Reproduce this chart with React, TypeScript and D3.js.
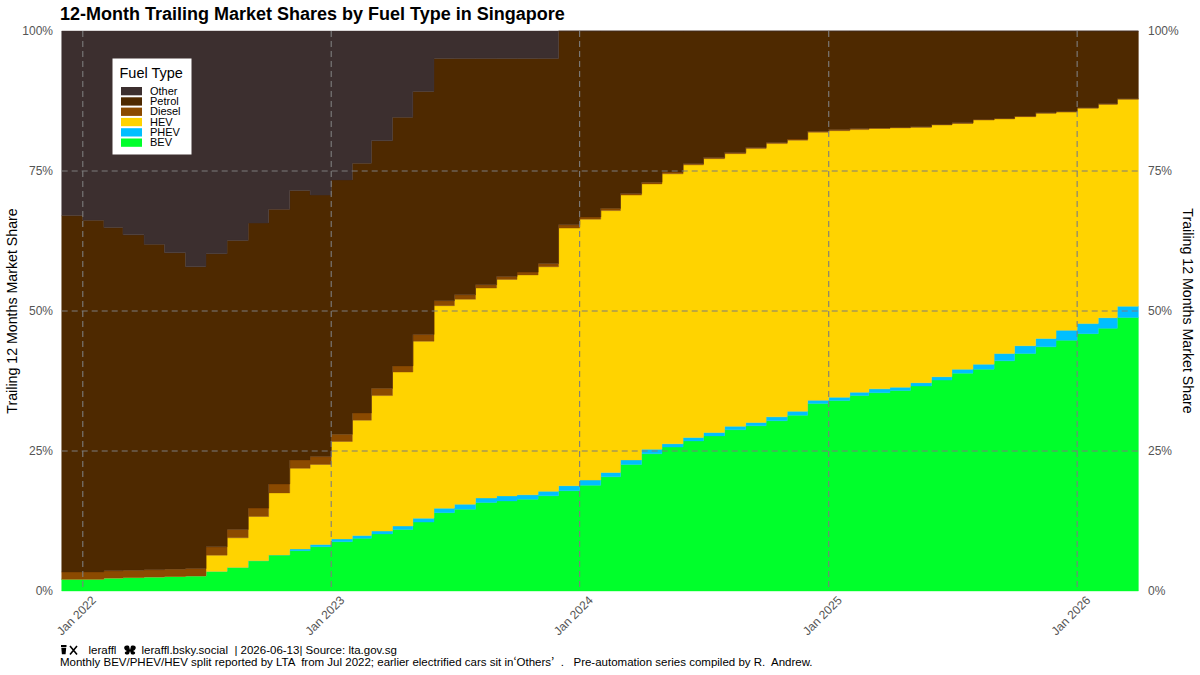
import * as d3 from "d3";

const W = 1200;
const H = 675;

// monthly 12-month trailing shares (%), Dec 2021 .. Mar 2026
const months = d3.utcMonth.range(new Date(Date.UTC(2021, 11, 1)), new Date(Date.UTC(2026, 3, 1)));
const endDate = new Date(Date.UTC(2026, 3, 1));

const fuelTypes = ["BEV", "PHEV", "HEV", "Diesel", "Petrol", "Other"]; // stack order, bottom up
const legendOrder = ["Other", "Petrol", "Diesel", "HEV", "PHEV", "BEV"];

const colors: Record<string, string> = {
  Other: "#3c2f2f",
  Petrol: "#4e2900",
  Diesel: "#8b4a00",
  HEV: "#ffd300",
  PHEV: "#00bfff",
  BEV: "#00ff2b",
};

const bev = [
  2.1, 2.1, 2.3, 2.4, 2.5, 2.6, 2.7, 3.5, 4.2, 5.4,
  6.4, 7.2, 7.9, 8.8, 9.4, 10.2, 11.0, 12.3, 14.0, 14.6,
  15.8, 16.1, 16.4, 17.0, 17.9, 18.9, 20.4, 22.6, 24.5, 25.7,
  26.8, 27.7, 28.8, 29.5, 30.4, 31.4, 33.5, 34.0, 34.9, 35.4,
  35.8, 36.6, 37.7, 38.9, 39.6, 41.1, 42.4, 43.6, 44.8, 46.0,
  46.9, 48.9,
];
const phev = [
  0, 0, 0, 0, 0, 0, 0, 0, 0, 0,
  0, 0.3, 0.4, 0.5, 0.5, 0.5, 0.6, 0.7, 0.8, 0.9,
  0.8, 0.9, 0.8, 0.8, 0.9, 0.9, 0.8, 0.8, 0.8, 0.6,
  0.6, 0.6, 0.6, 0.6, 0.7, 0.7, 0.6, 0.6, 0.6, 0.7,
  0.6, 0.6, 0.6, 0.7, 0.9, 1.3, 1.4, 1.5, 1.8, 1.8,
  1.9, 2.0,
];
const hev = [
  0, 0, 0, 0, 0, 0, 0, 2.9, 5.3, 7.9,
  11.1, 14.4, 14.3, 17.4, 20.6, 24.2, 27.5, 31.6, 36.2, 36.6,
  37.5, 38.7, 39.3, 40.1, 46.0, 46.6, 46.8, 47.3, 47.4, 48.2,
  48.7, 48.9, 48.7, 48.9, 48.8, 48.4, 47.9, 47.6, 46.9, 46.5,
  46.3, 45.6, 45.0, 43.9, 43.6, 41.9, 40.9, 40.2, 39.0, 38.5,
  38.1, 37.0,
];
const diesel = [
  1.3, 1.3, 1.3, 1.3, 1.3, 1.3, 1.3, 1.5, 1.5, 1.5,
  1.6, 1.5, 1.4, 1.3, 1.3, 1.3, 1.1, 1.2, 0.9, 0.8,
  0.6, 0.5, 0.5, 0.6, 0.6, 0.4, 0.4, 0.3, 0.3, 0.3,
  0.2, 0.2, 0.2, 0.2, 0.2, 0.2, 0.2, 0.2, 0.2, 0.1,
  0.1, 0.1, 0.1, 0.1, 0.1, 0.1, 0.1, 0.1, 0.1, 0.1,
  0.1, 0.1,
];
const petrol = [
  63.7, 62.8, 61.3, 59.9, 58.1, 56.5, 53.9, 52.4, 51.6, 50.9,
  49.0, 48.1, 46.7, 45.4, 44.6, 44.2, 44.4, 43.4, 43.3, 42.2,
  40.4, 39.0, 38.2, 36.6, 34.6, 33.2, 31.7, 29.0, 27.0, 25.2,
  23.7, 22.6, 21.7, 20.8, 19.9, 19.3, 17.9, 17.6, 17.4, 17.3,
  17.2, 17.1, 16.7, 16.4, 15.8, 15.6, 15.2, 14.6, 14.4, 13.7,
  13.0, 12.1,
];
const other = [
  33.0, 33.8, 35.1, 36.4, 38.1, 39.6, 42.1, 39.8, 37.4, 34.3,
  31.8, 28.5, 29.3, 26.6, 23.6, 19.6, 15.4, 10.8, 4.9, 4.9,
  4.9, 4.9, 4.9, 4.9, 0, 0, 0, 0, 0, 0,
  0, 0, 0, 0, 0, 0, 0, 0, 0, 0,
  0, 0, 0, 0, 0, 0, 0, 0, 0, 0,
  0, 0,
];

const xTicks = [2022, 2023, 2024, 2025, 2026].map((yr) => new Date(Date.UTC(yr, 0, 1)));
const xTickLabels = ["Jan 2022", "Jan 2023", "Jan 2024", "Jan 2025", "Jan 2026"];
const yTicks = [0, 0.25, 0.5, 0.75, 1];
const yTickLabels = ["0%", "25%", "50%", "75%", "100%"];

const left = 61.7;
const right = 1138.4;
const top = 31;
const bottom = 591;

type Row = { date: Date } & Record<string, number>;

export default function App() {
  const x = d3.scaleUtc().domain([months[0], endDate]).range([left, right]);
  const y = d3.scaleLinear().domain([0, 1]).range([bottom, top]);

  const series: Record<string, number[]> = {
    BEV: bev, PHEV: phev, HEV: hev, Diesel: diesel, Petrol: petrol, Other: other,
  };
  const rows: Row[] = months.map((m, i) => {
    const r: any = { date: m };
    fuelTypes.forEach((k) => (r[k] = series[k][i]));
    return r;
  });
  // repeat last month so the final step reaches the right edge
  rows.push({ ...rows[rows.length - 1], date: endDate });

  const stacked = d3.stack<Row>().keys(fuelTypes).offset(d3.stackOffsetExpand)(rows);

  const area = d3
    .area<d3.SeriesPoint<Row>>()
    .x((d) => x(d.data.date))
    .y0((d) => y(d[0]))
    .y1((d) => y(d[1]))
    .curve(d3.curveStepAfter);

  const grid = "#7d7d7d";
  const axisText = "#555";
  const font = "'Liberation Sans', Arial, sans-serif";
  const cjk = "'Noto Sans CJK JP', 'Noto Sans CJK SC', sans-serif";

  return (
    <svg
      width={W}
      height={H}
      style={{ position: "absolute", left: 0, top: 0, background: "#fff" }}
      fontFamily={font}
    >
      <text x={60} y={20} fontSize={18} fontWeight="bold" fill="#000">
        12-Month Trailing Market Shares by Fuel Type in Singapore
      </text>

      <g>
        {stacked.map((s) => (
          <path
            key={s.key}
            d={area(s) || ""}
            fill={colors[s.key]}
            stroke={colors[s.key]}
            strokeWidth={0.4}
          />
        ))}
      </g>

      <g stroke={grid} strokeWidth={1.1} strokeDasharray="6,4">
        {xTicks.map((t, i) => (
          <line key={i} x1={x(t)} x2={x(t)} y1={top} y2={bottom} />
        ))}
        {yTicks.slice(1, 4).map((t, i) => (
          <line key={i} x1={left} x2={right} y1={y(t)} y2={y(t)} />
        ))}
      </g>

      <g fontSize={12} fill={axisText}>
        {yTicks.map((t, i) => (
          <text key={"l" + i} x={53} y={y(t)} dy="0.35em" textAnchor="end">
            {yTickLabels[i]}
          </text>
        ))}
        {yTicks.map((t, i) => (
          <text key={"r" + i} x={1148} y={y(t)} dy="0.35em" textAnchor="start">
            {yTickLabels[i]}
          </text>
        ))}
        {xTicks.map((t, i) => (
          <text
            key={"x" + i}
            transform={`translate(${x(t) + 14},${bottom + 10}) rotate(-45)`}
            textAnchor="end"
          >
            {xTickLabels[i]}
          </text>
        ))}
      </g>

      <text
        transform={`translate(17,${(top + bottom) / 2}) rotate(-90)`}
        textAnchor="middle"
        fontSize={14.2}
        fill="#000"
      >
        Trailing 12 Months Market Share
      </text>
      <text
        transform={`translate(1183,${(top + bottom) / 2}) rotate(90)`}
        textAnchor="middle"
        fontSize={14.2}
        fill="#000"
      >
        Trailing 12 Months Market Share
      </text>

      <g transform="translate(112.5,58.5)">
        <rect width={79} height={96} fill="#fff" />
        <text x={7} y={19} fontSize={14.5} fill="#000">
          Fuel Type
        </text>
        {legendOrder.map((k, i) => (
          <g key={k} transform={`translate(8.5,${28.5 + i * 10.3})`}>
            <rect width={21} height={8.3} fill={colors[k]} />
            <text x={29} y={7.8} fontSize={11} fill="#000">
              {k}
            </text>
          </g>
        ))}
      </g>

      <g fontSize={11.5} fill="#000">
        <g transform="translate(60,645)">
          <rect x={1} y={0} width={5.5} height={2} fill="#000" />
          <path d="M1.3,2.8 L6.2,2.8 L5.6,9.3 L1.9,9.3 Z" fill="#000" />
          <path d="M10,1 L17,9.5 M17,1 L10,9.5" stroke="#000" strokeWidth={1.6} />
          <text x={28.5} y={9}>leraffl</text>
          <path
            d="M69,1 C63,-1 63,5 67,6 C63,7 65,11 69,9 L70,6 L71,9 C75,11 77,7 73,6 C77,5 77,-1 71,1 L70,5 Z"
            fill="#000"
          />
          <text x={81.5} y={9} xmlSpace="preserve">
            {"leraffl.bsky.social  | 2026-06-13| Source: lta.gov.sg"}
          </text>
        </g>
        <text x={60} y={665.5} xmlSpace="preserve">
          {"Monthly BEV/PHEV/HEV split reported by LTA  from Jul 2022; earlier electrified cars sit in"}
          <tspan fontFamily={cjk}>‘</tspan>
          {"Others"}
          <tspan fontFamily={cjk}>’</tspan>
          {"  .   Pre-automation series compiled by R.  Andrew."}
        </text>
      </g>
    </svg>
  );
}
